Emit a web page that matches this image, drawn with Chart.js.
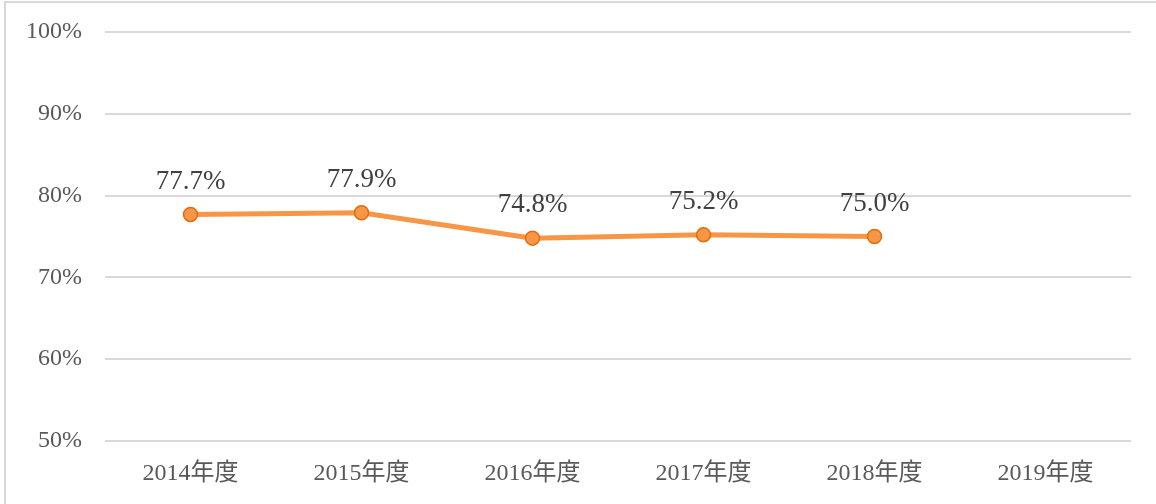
<!DOCTYPE html>
<html>
<head>
<meta charset="utf-8">
<script src="https://cdn.jsdelivr.net/npm/chart.js@4/dist/chart.umd.min.js"></script>
<style>
    html, body { margin: 0; padding: 0; background: #fff; overflow: hidden; }
    #wrap { position: relative; width: 1156px; height: 504px; }
    #frame {
        position: absolute; left: 4px; top: 1px; width: 1200px; height: 600px;
        border-left: 2px solid #d9d9d9; border-top: 2px solid #d9d9d9;
        pointer-events: none;
    }
</style>
</head>
<body>
<div id="wrap">
    <canvas id="rate-chart" width="1156" height="504"></canvas>
    <div id="frame"></div>
</div>
<script>
const years = ["2014年度", "2015年度", "2016年度", "2017年度", "2018年度", "2019年度"];
const rates = [77.7, 77.9, 74.8, 75.2, 75.0, null];
const yTicks = [50, 60, 70, 80, 90, 100];

const FONT = '"Liberation Serif", "Noto Sans CJK JP", serif';

// value labels above each point
const valueLabels = {
    id: 'valueLabels',
    afterDatasetsDraw(chart) {
        const ctx = chart.ctx;
        const meta = chart.getDatasetMeta(0);
        ctx.save();
        ctx.font = '27px ' + FONT;
        ctx.fillStyle = '#404040';
        ctx.textAlign = 'center';
        ctx.textBaseline = 'middle';
        meta.data.forEach((pt, i) => {
            const v = rates[i];
            if (v == null) return;
            ctx.fillText(v.toFixed(1) + '%', pt.x, pt.y - 33);
        });
        ctx.restore();
    }
};

new Chart(document.getElementById("rate-chart"), {
    type: 'line',
    data: {
        labels: years,
        datasets: [{
            data: rates,
            borderColor: "#F79646",
            borderWidth: 5,
            backgroundColor: "#F79646",
            pointRadius: 7,
            pointBorderColor: "#E46C0A",
            pointBorderWidth: 1.5,
            pointBackgroundColor: "#F79646",
            tension: 0,
            fill: false
        }]
    },
    options: {
        responsive: false,
        animation: false,
        layout: { padding: { left: 5, top: 32, right: 25, bottom: 0 } },
        plugins: {
            legend: { display: false },
            tooltip: { enabled: false }
        },
        scales: {
            x: {
                offset: true,
                grid: { display: false, drawTicks: false },
                border: { display: false },
                ticks: {
                    color: '#595959',
                    font: { family: FONT, size: 24 },
                    padding: 18,
                    maxRotation: 0
                },
                afterFit(scale) { scale.height = 63; }
            },
            y: {
                min: 50,
                max: 100,
                afterBuildTicks(scale) { scale.ticks = yTicks.map(v => ({ value: v })); },
                // invisible tick marks keep the labels clear of the plot
                grid: { color: '#d9d9d9', lineWidth: 2, drawTicks: true, tickLength: 20, tickColor: 'transparent' },
                border: { display: false },
                ticks: {
                    color: '#595959',
                    font: { family: FONT, size: 24 },
                    padding: 3,
                    callback: v => v + '%'
                },
                afterFit(scale) { scale.width = 100; }
            }
        }
    },
    plugins: [valueLabels]
});
</script>
</body>
</html>
